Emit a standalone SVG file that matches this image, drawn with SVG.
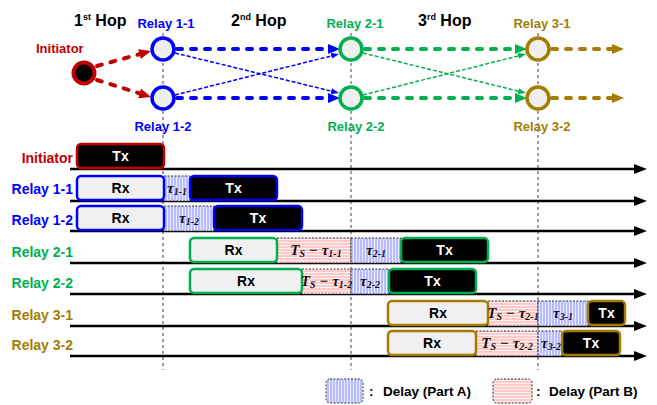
<svg xmlns="http://www.w3.org/2000/svg" width="657" height="405" viewBox="0 0 657 405">
<style>
text{font-family:"Liberation Sans",Arial,sans-serif;font-weight:bold}
.hop{font-size:16px;fill:#000}
.sup{font-size:9px}
.lbl{font-size:13px}
.row{font-size:14px;text-anchor:end}
.red{fill:#c00000}.blue{fill:#0000ff}.green{fill:#00b050}.gold{fill:#a67c00}
.grid{stroke:#808080;stroke-width:1.5;stroke-dasharray:3 3}
.axis{stroke:#000;stroke-width:2.5;marker-end:url(#mAxis)}
.box{stroke-width:2.5}
.rx{fill:#f0f0f0}
.tx{fill:#000}
.bt{font-size:14px;text-anchor:middle}
.wt{fill:#fff}
.hA{fill:url(#hatchA);stroke:#333;stroke-width:1;stroke-dasharray:2 1.5}
.hB{fill:url(#hatchB);stroke:#333;stroke-width:1;stroke-dasharray:2 1.5}
.tau{font-family:"Liberation Serif","Times New Roman",serif;font-style:italic;font-size:15px;text-anchor:middle;fill:#111}
.sb{font-size:10px}
.node{stroke-width:3.5;fill:#efefef}
.thick{stroke-width:4;stroke-dasharray:5 9;stroke-linecap:round;fill:none}
.thin{stroke-width:1.5;stroke-dasharray:4 2;fill:none}
.leg{font-size:13.5px;fill:#000}
</style>
<defs>
<pattern id="hatchA" width="3" height="4" patternUnits="userSpaceOnUse"><rect width="3" height="4" fill="#e8eaff"/><line x1="1" y1="0" x2="1" y2="4" stroke="#8a90ff" stroke-width="1"/></pattern>
<pattern id="hatchB" width="4" height="3" patternUnits="userSpaceOnUse"><rect width="4" height="3" fill="#fff2f2"/><line x1="0" y1="1" x2="4" y2="1" stroke="#ffa0a0" stroke-width="1"/></pattern>
<marker id="mAxis" markerUnits="userSpaceOnUse" markerWidth="14" markerHeight="10" refX="1" refY="5" orient="auto"><path d="M0,0 L13,5 L0,10 z" fill="#000"/></marker>
<marker id="mRed" markerUnits="userSpaceOnUse" markerWidth="13" markerHeight="10" refX="1" refY="5" orient="auto"><path d="M0,0 L12,5 L0,10 z" fill="#c00000"/></marker>
<marker id="mBlue" markerUnits="userSpaceOnUse" markerWidth="13" markerHeight="10" refX="1" refY="5" orient="auto"><path d="M0,0 L12,5 L0,10 z" fill="#0000ff"/></marker>
<marker id="mGreen" markerUnits="userSpaceOnUse" markerWidth="13" markerHeight="10" refX="1" refY="5" orient="auto"><path d="M0,0 L12,5 L0,10 z" fill="#00b050"/></marker>
<marker id="mGold" markerUnits="userSpaceOnUse" markerWidth="13" markerHeight="10" refX="1" refY="5" orient="auto"><path d="M0,0 L12,5 L0,10 z" fill="#a67c00"/></marker>
<marker id="sBlue" markerUnits="userSpaceOnUse" markerWidth="8" markerHeight="6" refX="1" refY="3" orient="auto"><path d="M0,0 L8,3 L0,6 z" fill="#0000ff"/></marker>
<marker id="sGreen" markerUnits="userSpaceOnUse" markerWidth="8" markerHeight="6" refX="1" refY="3" orient="auto"><path d="M0,0 L8,3 L0,6 z" fill="#00b050"/></marker>
</defs>
<rect width="657" height="405" fill="#fff"/>

<g id="grid">
<line class="grid" x1="163" y1="33" x2="163" y2="370"/>
<line class="grid" x1="351" y1="33" x2="351" y2="370"/>
<line class="grid" x1="538" y1="33" x2="538" y2="370"/>
</g>

<g id="hops">
<text class="hop" x="74" y="26">1<tspan class="sup" dy="-6">st</tspan><tspan dy="6"> Hop</tspan></text>
<text class="hop" x="231" y="26">2<tspan class="sup" dy="-6">nd</tspan><tspan dy="6"> Hop</tspan></text>
<text class="hop" x="418" y="26">3<tspan class="sup" dy="-6">rd</tspan><tspan dy="6"> Hop</tspan></text>
</g>

<g id="connectors">
<line x1="97" y1="66" x2="140.4" y2="53.9" class="thick" stroke="#c00000" marker-end="url(#mRed)"/>
<line x1="97" y1="80" x2="140.5" y2="93.7" class="thick" stroke="#c00000" marker-end="url(#mRed)"/>
<line x1="177" y1="49" x2="329" y2="49" class="thick" stroke="#0000ff" marker-end="url(#mBlue)"/>
<line x1="177" y1="98" x2="329" y2="98" class="thick" stroke="#0000ff" marker-end="url(#mBlue)"/>
<line x1="175" y1="53" x2="332.2" y2="91.3" class="thin" stroke="#0000ff" marker-end="url(#sBlue)"/>
<line x1="175" y1="95" x2="332.2" y2="55.7" class="thin" stroke="#0000ff" marker-end="url(#sBlue)"/>
<line x1="365" y1="49" x2="516" y2="49" class="thick" stroke="#00b050" marker-end="url(#mGreen)"/>
<line x1="365" y1="98" x2="516" y2="98" class="thick" stroke="#00b050" marker-end="url(#mGreen)"/>
<line x1="363" y1="53" x2="519.2" y2="91.3" class="thin" stroke="#00b050" marker-end="url(#sGreen)"/>
<line x1="363" y1="95" x2="519.2" y2="55.7" class="thin" stroke="#00b050" marker-end="url(#sGreen)"/>
<line x1="552" y1="49" x2="613" y2="49" class="thick" stroke="#a67c00" marker-end="url(#mGold)"/>
<line x1="552" y1="98" x2="613" y2="98" class="thick" stroke="#a67c00" marker-end="url(#mGold)"/>
</g>

<g id="node-initiator">
<circle cx="84" cy="73" r="10.5" fill="#000" stroke="#c00000" stroke-width="4"/>
<text class="lbl red" x="36" y="53">Initiator</text>
</g>
<g id="node-relay-1-1">
<circle class="node" cx="163" cy="49" r="11" stroke="#0000ff"/>
<text class="lbl blue" x="166" y="28" text-anchor="middle">Relay 1-1</text>
</g>
<g id="node-relay-1-2">
<circle class="node" cx="163" cy="98" r="11" stroke="#0000ff"/>
<text class="lbl blue" x="163" y="131" text-anchor="middle">Relay 1-2</text>
</g>
<g id="node-relay-2-1">
<circle class="node" cx="351" cy="49" r="11" stroke="#00b050"/>
<text class="lbl green" x="355" y="28" text-anchor="middle">Relay 2-1</text>
</g>
<g id="node-relay-2-2">
<circle class="node" cx="351" cy="98" r="11" stroke="#00b050"/>
<text class="lbl green" x="356" y="131" text-anchor="middle">Relay 2-2</text>
</g>
<g id="node-relay-3-1">
<circle class="node" cx="538" cy="49" r="11" stroke="#a67c00"/>
<text class="lbl gold" x="542" y="28" text-anchor="middle">Relay 3-1</text>
</g>
<g id="node-relay-3-2">
<circle class="node" cx="538" cy="98" r="11" stroke="#a67c00"/>
<text class="lbl gold" x="542" y="131" text-anchor="middle">Relay 3-2</text>
</g>

<g id="row-initiator">
<text class="row red" x="73" y="163">Initiator</text>
<line class="axis" x1="70" y1="169" x2="635" y2="169"/>
<rect class="box tx" x="77" y="144" width="87" height="24" rx="4" stroke="#c00000"/>
<text class="bt wt" x="120.5" y="161">Tx</text>
</g>

<g id="row-relay-1-1">
<text class="row blue" x="73" y="194">Relay 1-1</text>
<line class="axis" x1="70" y1="201" x2="635" y2="201"/>
<rect class="hA" x="164" y="176" width="26" height="25"/>
<rect class="box rx" x="77" y="176" width="87" height="24" rx="4" stroke="#0000ff"/>
<text class="bt" x="120.5" y="193">Rx</text>
<text class="tau" x="177" y="193">τ<tspan class="sb" dy="2">1-1</tspan></text>
<rect class="box tx" x="190" y="176" width="87" height="24" rx="4" stroke="#0000ff"/>
<text class="bt wt" x="233.5" y="193">Tx</text>
</g>

<g id="row-relay-1-2">
<text class="row blue" x="73" y="225">Relay 1-2</text>
<line class="axis" x1="70" y1="231" x2="635" y2="231"/>
<rect class="hA" x="164" y="206" width="50" height="25"/>
<rect class="box rx" x="77" y="206" width="87" height="24" rx="4" stroke="#0000ff"/>
<text class="bt" x="120.5" y="223">Rx</text>
<text class="tau" x="189" y="223">τ<tspan class="sb" dy="2">1-2</tspan></text>
<rect class="box tx" x="214" y="206" width="88" height="24" rx="4" stroke="#0000ff"/>
<text class="bt wt" x="258" y="223">Tx</text>
</g>

<g id="row-relay-2-1">
<text class="row green" x="73" y="257">Relay 2-1</text>
<line class="axis" x1="70" y1="263" x2="635" y2="263"/>
<rect class="hB" x="277" y="238" width="74" height="25"/>
<rect class="hA" x="351" y="238" width="50" height="25"/>
<rect class="box rx" x="190" y="238" width="87" height="24" rx="4" stroke="#00b050"/>
<text class="bt" x="233.5" y="255">Rx</text>
<text class="tau" x="316" y="255">T<tspan class="sb" dy="2">S</tspan><tspan dy="-2"> − τ</tspan><tspan class="sb" dy="2">1-1</tspan></text>
<text class="tau" x="376" y="255">τ<tspan class="sb" dy="2">2-1</tspan></text>
<rect class="box tx" x="401" y="238" width="87" height="24" rx="4" stroke="#00b050"/>
<text class="bt wt" x="444.5" y="255">Tx</text>
</g>

<g id="row-relay-2-2">
<text class="row green" x="73" y="288">Relay 2-2</text>
<line class="axis" x1="70" y1="294" x2="635" y2="294"/>
<rect class="hB" x="302" y="269" width="49" height="25"/>
<rect class="hA" x="351" y="269" width="38" height="25"/>
<rect class="box rx" x="190" y="269" width="112" height="24" rx="4" stroke="#00b050"/>
<text class="bt" x="246" y="286">Rx</text>
<text class="tau" x="326.5" y="286">T<tspan class="sb" dy="2">S</tspan><tspan dy="-2"> − τ</tspan><tspan class="sb" dy="2">1-2</tspan></text>
<text class="tau" x="370" y="286">τ<tspan class="sb" dy="2">2-2</tspan></text>
<rect class="box tx" x="389" y="269" width="87" height="24" rx="4" stroke="#00b050"/>
<text class="bt wt" x="432.5" y="286">Tx</text>
</g>

<g id="row-relay-3-1">
<text class="row gold" x="73" y="320">Relay 3-1</text>
<line class="axis" x1="70" y1="326" x2="635" y2="326"/>
<rect class="hB" x="488" y="301" width="50" height="25"/>
<rect class="hA" x="538" y="301" width="50" height="25"/>
<rect class="box rx" x="388" y="301" width="100" height="24" rx="4" stroke="#a67c00"/>
<text class="bt" x="438" y="318">Rx</text>
<text class="tau" x="513" y="318">T<tspan class="sb" dy="2">S</tspan><tspan dy="-2"> − τ</tspan><tspan class="sb" dy="2">2-1</tspan></text>
<text class="tau" x="563" y="318">τ<tspan class="sb" dy="2">3-1</tspan></text>
<rect class="box tx" x="588" y="301" width="37" height="24" rx="4" stroke="#a67c00"/>
<text class="bt wt" x="606.5" y="318">Tx</text>
</g>

<g id="row-relay-3-2">
<text class="row gold" x="73" y="350">Relay 3-2</text>
<line class="axis" x1="70" y1="356" x2="635" y2="356"/>
<rect class="hB" x="476" y="331" width="62" height="25"/>
<rect class="hA" x="538" y="331" width="24" height="25"/>
<rect class="box rx" x="388" y="331" width="88" height="24" rx="4" stroke="#a67c00"/>
<text class="bt" x="432" y="348">Rx</text>
<text class="tau" x="507" y="348">T<tspan class="sb" dy="2">S</tspan><tspan dy="-2"> − τ</tspan><tspan class="sb" dy="2">2-2</tspan></text>
<text class="tau" x="551" y="348">τ<tspan class="sb" dy="2">3-2</tspan></text>
<rect class="box tx" x="562" y="331" width="58" height="24" rx="4" stroke="#a67c00"/>
<text class="bt wt" x="591" y="348">Tx</text>
</g>

<g id="legend">
<rect class="hA" x="326" y="379" width="37" height="24" rx="4" stroke-dasharray="2 1.5" stroke-width="1.5"/>
<text class="leg" x="369" y="396">:<tspan x="383">Delay (Part A)</tspan></text>
<rect class="hB" x="493" y="379" width="39" height="24" rx="4" stroke-dasharray="2 1.5" stroke-width="1.5"/>
<text class="leg" x="536" y="396">:<tspan x="549">Delay (Part B)</tspan></text>
</g>
</svg>
